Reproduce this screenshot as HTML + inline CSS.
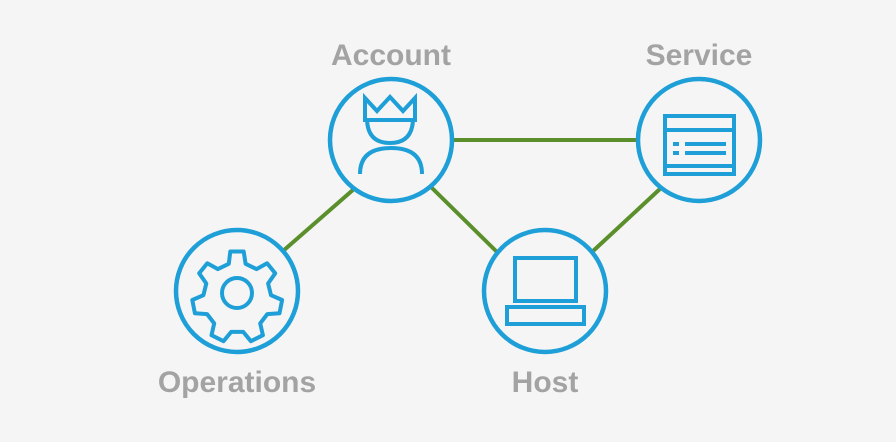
<!DOCTYPE html>
<html><head><style>
html,body{margin:0;padding:0;background:#f5f5f5;}
svg{display:block}
text{font-family:"Liberation Sans",sans-serif;font-weight:bold;font-size:30px;fill:#a3a3a3;text-anchor:middle}
</style></head><body>
<svg width="896" height="442" viewBox="0 0 896 442">
<g stroke="#5b8f2c" stroke-width="4" fill="none">
<line x1="453" y1="140" x2="637" y2="140"/>
<line x1="354" y1="189" x2="283" y2="251"/>
<line x1="431" y1="187" x2="497" y2="252"/>
<line x1="661" y1="188" x2="592" y2="252"/>
</g>
<g stroke="#1e9fd7" stroke-width="4.5" fill="#f5f5f5">
<circle cx="391" cy="140" r="61"/>
<circle cx="699" cy="140" r="61"/>
<circle cx="237" cy="291" r="61"/>
<circle cx="545" cy="291" r="61"/>
</g>
<g stroke="#1e9fd7" stroke-width="4" fill="none" stroke-linejoin="miter">
<!-- account -->
<path d="M365 98 L377 111 L390 97 L403 111 L415 98 L415 120 L365 120 Z"/>
<path d="M367 120 Q368 143 390 143 Q412 143 413 120"/>
<path d="M360 174 Q360 148 391 148 Q422 148 422 174"/>
<!-- service -->
<rect x="665" y="116" width="69" height="58"/>
<line x1="665" y1="130" x2="734" y2="130"/>
<line x1="665" y1="166" x2="734" y2="166"/>
<line x1="673" y1="144" x2="679" y2="144"/><line x1="685" y1="144" x2="726" y2="144"/>
<line x1="673" y1="153" x2="679" y2="153"/><line x1="685" y1="153" x2="726" y2="153"/>
<!-- host -->
<rect x="515" y="258" width="61" height="43"/>
<rect x="507" y="307" width="77" height="17"/>
<!-- gear -->
<path id="g" d=""/>
<circle cx="237" cy="293" r="15"/>
</g>
<g stroke="#1e9fd7" stroke-width="4" fill="none" stroke-linejoin="round">
<path d="M230.3 251.5L243.7 251.5L245.6 263.8L256.5 269.1L267.1 263.3L275.2 273.3L268.1 283.5L271.0 295.2L282.1 300.0L279.5 313.2L267.3 314.1L260.2 323.4L262.9 335.2L250.9 341.2L243.2 331.9L231.2 331.9L223.5 341.2L211.5 335.2L214.2 323.4L207.1 314.1L194.9 313.2L192.3 300.0L203.4 295.2L206.3 283.5L199.2 273.3L207.3 263.3L217.9 269.1L228.8 263.8Z" transform="translate(0,0)"/>
</g>
<text x="391" y="65">Account</text>
<text x="699" y="65">Service</text>
<text x="237" y="392">Operations</text>
<text x="545" y="392">Host</text>
</svg>
</body></html>
